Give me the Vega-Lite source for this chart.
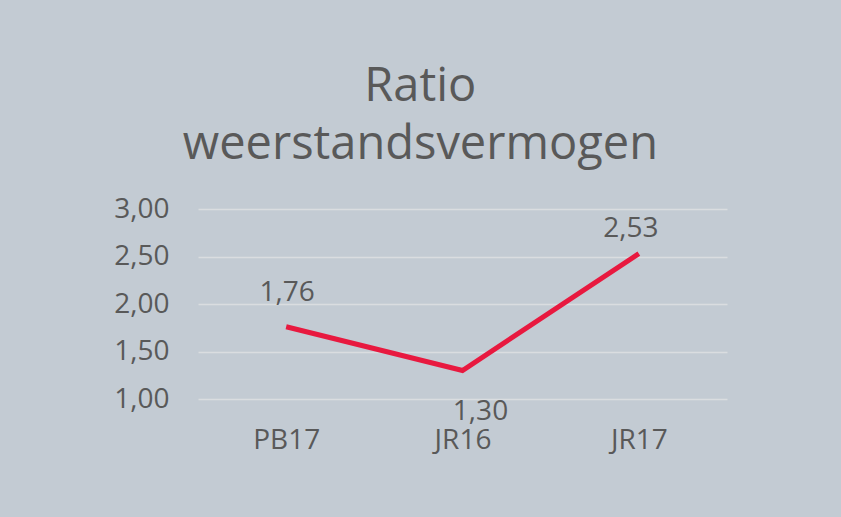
{
  "$schema": "https://vega.github.io/schema/vega-lite/v6.json",
  "width": 529,
  "height": 190,
  "autosize": {"type": "none"},
  "padding": {"left": 198, "top": 209, "right": 114, "bottom": 118},
  "background": "#C3CBD3",
  "title": {
    "text": ["Ratio", "weerstandsvermogen"],
    "fontSize": 47,
    "font": "Open Sans",
    "fontWeight": "normal",
    "color": "#595959",
    "lineHeight": 58,
    "anchor": "middle",
    "frame": "bounds",
    "offset": 26
  },
  "data": {
    "values": [
      {"cat": "PB17", "value": 1.76},
      {"cat": "JR16", "value": 1.30},
      {"cat": "JR17", "value": 2.53}
    ]
  },
  "encoding": {
    "x": {
      "field": "cat", "type": "nominal", "sort": null,
      "scale": {"paddingInner": 0, "paddingOuter": 0},
      "axis": {"title": null, "labelAngle": 0, "domain": false, "ticks": false, "labelPadding": 27, "labelFontSize": 28, "labelColor": "#595959", "labelFont": "Open Sans"}
    },
    "y": {
      "field": "value", "type": "quantitative",
      "scale": {"domain": [1, 3], "nice": false, "zero": false},
      "axis": {"title": null, "values": [1, 1.5, 2, 2.5, 3], "format": ".2f", "domain": false, "ticks": false, "labelPadding": 29, "labelFontSize": 28, "labelColor": "#595959", "labelFont": "Open Sans", "gridColor": "#DADDE0", "gridWidth": 1.5}
    }
  },
  "layer": [
    {"mark": {"type": "line", "color": "#E8193F", "strokeWidth": 5}},
    {
      "transform": [{"filter": "datum.cat == 'PB17'"}],
      "mark": {"type": "text", "fontSize": 28, "font": "Open Sans", "color": "#595959", "baseline": "alphabetic", "dy": -26, "dx": 1},
      "encoding": {"text": {"field": "value", "type": "quantitative", "format": ".2f"}}
    },
    {
      "transform": [{"filter": "datum.cat == 'JR17'"}],
      "mark": {"type": "text", "fontSize": 28, "font": "Open Sans", "color": "#595959", "baseline": "alphabetic", "dy": -17, "dx": -8},
      "encoding": {"text": {"field": "value", "type": "quantitative", "format": ".2f"}}
    },
    {
      "transform": [{"filter": "datum.cat == 'JR16'"}],
      "mark": {"type": "text", "fontSize": 28, "font": "Open Sans", "color": "#595959", "baseline": "alphabetic", "dy": 49, "dx": 18},
      "encoding": {"text": {"field": "value", "type": "quantitative", "format": ".2f"}}
    }
  ],
  "config": {
    "view": {"stroke": null},
    "locale": {"number": {"decimal": ",", "thousands": ".", "grouping": [3], "currency": ["€", ""]}}
  }
}
